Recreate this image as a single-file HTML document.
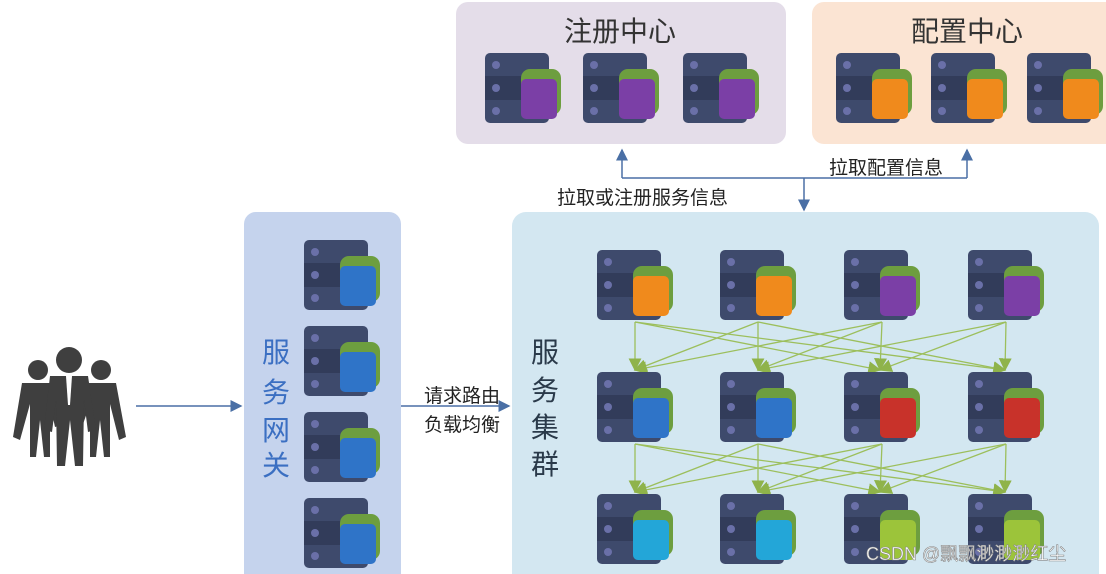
<!DOCTYPE html>
<html><head><meta charset="utf-8"><style>
html,body{margin:0;padding:0;background:#fff;}
svg{display:block;font-family:"Liberation Sans","Noto Sans CJK SC",sans-serif;}
</style></head><body>
<svg width="1106" height="574" viewBox="0 0 1106 574" xmlns="http://www.w3.org/2000/svg">
<defs>
<g id="body">
<rect x="0" y="0" width="64" height="70" rx="5" fill="#3e4a6c"/>
<rect x="0" y="23" width="64" height="24" fill="#323c5a"/>
<circle cx="11" cy="12" r="4" fill="#6a70a8"/><circle cx="11" cy="35" r="4" fill="#6a70a8"/><circle cx="11" cy="58" r="4" fill="#6a70a8"/>
<rect x="36" y="16" width="40" height="46" rx="9" fill="#6d9e3f"/>
</g>
<marker id="ab" markerWidth="8" markerHeight="8" refX="7" refY="4" orient="auto"><path d="M0,0 L8,4 L0,8 z" fill="#4a6fa5"/></marker>
<marker id="ag" markerWidth="10" markerHeight="10" refX="9" refY="5" orient="auto"><path d="M0,0 L10,5 L0,10 z" fill="#8fb34a"/></marker>
</defs>
<rect x="456" y="2" width="330" height="142" rx="12" fill="#e4dde9"/>
<rect x="812" y="2" width="320" height="142" rx="12" fill="#fbe4d3"/>
<rect x="244" y="212" width="157" height="380" rx="12" fill="#c5d3ed"/>
<rect x="512" y="212" width="587" height="380" rx="14" fill="#d3e7f1"/>
<text x="620" y="41" font-size="28" text-anchor="middle" fill="#333">注册中心</text>
<text x="967" y="41" font-size="28" text-anchor="middle" fill="#333">配置中心</text>
<g font-size="28" fill="#3b6fc2" text-anchor="middle">
<text x="276" y="362">服</text><text x="276" y="402">务</text><text x="276" y="440">网</text><text x="276" y="475">关</text></g>
<g font-size="28" fill="#2a3a4a" text-anchor="middle">
<text x="545" y="362">服</text><text x="545" y="400">务</text><text x="545" y="437">集</text><text x="545" y="474">群</text></g>
<g stroke="#4a6fa5" stroke-width="1.5" fill="none">
<path d="M622 178 V150" marker-end="url(#ab)"/>
<path d="M967 178 V150" marker-end="url(#ab)"/>
<path d="M622 178 H967"/>
<path d="M804 178 V210" marker-end="url(#ab)"/>
<path d="M136 406 H241" marker-end="url(#ab)"/>
<path d="M401 406 H509" marker-end="url(#ab)"/>
</g>
<g font-size="19" fill="#222">
<text x="557" y="204">拉取或注册服务信息</text>
<text x="829" y="174">拉取配置信息</text>
<text x="424" y="402">请求路由</text>
<text x="424" y="431">负载均衡</text>
</g>
<g stroke="#9cbf5c" stroke-width="1.3" fill="none" marker-end="url(#ag)">
<path d="M635 322 L635 370"/><path d="M635 322 L880 370"/><path d="M635 322 L1005 370"/>
<path d="M758 322 L635 370"/><path d="M758 322 L758 370"/><path d="M758 322 L1005 370"/>
<path d="M882 322 L758 370"/><path d="M882 322 L880 370"/><path d="M882 322 L635 370"/>
<path d="M1006 322 L1005 370"/><path d="M1006 322 L758 370"/><path d="M1006 322 L880 370"/>
<path d="M635 444 L635 492"/><path d="M635 444 L880 492"/><path d="M635 444 L1005 492"/>
<path d="M758 444 L758 492"/><path d="M758 444 L1005 492"/><path d="M758 444 L635 492"/>
<path d="M882 444 L880 492"/><path d="M882 444 L635 492"/><path d="M882 444 L758 492"/>
<path d="M1006 444 L1005 492"/><path d="M1006 444 L758 492"/><path d="M1006 444 L880 492"/>
</g>
<use href="#body" x="485" y="53"/><rect x="521" y="79" width="36" height="40" rx="5" fill="#7b3fa6"/>
<use href="#body" x="583" y="53"/><rect x="619" y="79" width="36" height="40" rx="5" fill="#7b3fa6"/>
<use href="#body" x="683" y="53"/><rect x="719" y="79" width="36" height="40" rx="5" fill="#7b3fa6"/>
<use href="#body" x="836" y="53"/><rect x="872" y="79" width="36" height="40" rx="5" fill="#f08a1c"/>
<use href="#body" x="931" y="53"/><rect x="967" y="79" width="36" height="40" rx="5" fill="#f08a1c"/>
<use href="#body" x="1027" y="53"/><rect x="1063" y="79" width="36" height="40" rx="5" fill="#f08a1c"/>
<use href="#body" x="304" y="240"/><rect x="340" y="266" width="36" height="40" rx="5" fill="#2f74c8"/>
<use href="#body" x="304" y="326"/><rect x="340" y="352" width="36" height="40" rx="5" fill="#2f74c8"/>
<use href="#body" x="304" y="412"/><rect x="340" y="438" width="36" height="40" rx="5" fill="#2f74c8"/>
<use href="#body" x="304" y="498"/><rect x="340" y="524" width="36" height="40" rx="5" fill="#2f74c8"/>
<use href="#body" x="597" y="250"/><rect x="633" y="276" width="36" height="40" rx="5" fill="#f08a1c"/>
<use href="#body" x="720" y="250"/><rect x="756" y="276" width="36" height="40" rx="5" fill="#f08a1c"/>
<use href="#body" x="844" y="250"/><rect x="880" y="276" width="36" height="40" rx="5" fill="#7b3fa6"/>
<use href="#body" x="968" y="250"/><rect x="1004" y="276" width="36" height="40" rx="5" fill="#7b3fa6"/>
<use href="#body" x="597" y="372"/><rect x="633" y="398" width="36" height="40" rx="5" fill="#2f74c8"/>
<use href="#body" x="720" y="372"/><rect x="756" y="398" width="36" height="40" rx="5" fill="#2f74c8"/>
<use href="#body" x="844" y="372"/><rect x="880" y="398" width="36" height="40" rx="5" fill="#c8322a"/>
<use href="#body" x="968" y="372"/><rect x="1004" y="398" width="36" height="40" rx="5" fill="#c8322a"/>
<use href="#body" x="597" y="494"/><rect x="633" y="520" width="36" height="40" rx="5" fill="#23a6d8"/>
<use href="#body" x="720" y="494"/><rect x="756" y="520" width="36" height="40" rx="5" fill="#23a6d8"/>
<use href="#body" x="844" y="494"/><rect x="880" y="520" width="36" height="40" rx="5" fill="#9cc43a"/>
<use href="#body" x="968" y="494"/><rect x="1004" y="520" width="36" height="40" rx="5" fill="#9cc43a"/>
<g fill="#3f3f3f">
<circle cx="38" cy="370" r="10"/><circle cx="101" cy="370" r="10"/>
<path d="M22 383 H54 L62 425 L55 427 L50 404 L50 457 H44 L40 420 L36 457 H30 L30 404 L20 440 L13 437 Z"/>
<path d="M86 383 H116 L126 437 L119 440 L110 404 L110 457 H104 L100 420 L96 457 H90 L90 404 L82 427 L76 425 Z"/>
<circle cx="69" cy="360" r="13"/>
<path d="M50 376 H88 L96 430 L88 432 L84 400 L83 466 H75 L70 420 L65 466 H57 L56 400 L52 432 L44 430 Z"/>
<path d="M66 376 H72 L70 405 L68 405 Z" fill="#fff"/>
</g>
<text x="866" y="560" font-size="18" fill="#fff" stroke="#888" stroke-width="0.6">CSDN @飘飘渺渺渺红尘</text>
</svg>
</body></html>
